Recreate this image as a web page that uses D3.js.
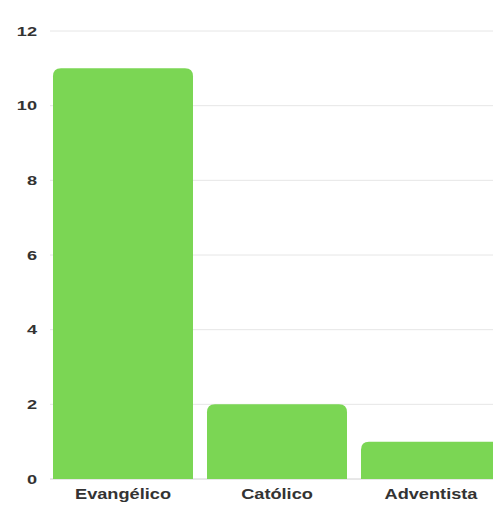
<!DOCTYPE html>
<html>
<head>
<meta charset="utf-8">
<script src="https://cdn.jsdelivr.net/npm/d3@7"></script>
<style>
  html, body { margin: 0; padding: 0; background: #fff; }
  svg { display: block; font-family: "Liberation Sans", Arial, sans-serif; }
</style>
</head>
<body>
<svg id="chart" width="493" height="507"></svg>
<script>
// Religion counts
const categories = ["Evangélico", "Católico", "Adventista"];
const values = [11, 2, 1];
const yTicks = [0, 2, 4, 6, 8, 10, 12];

const svg = d3.select("#chart");
const W = 493;

const x = d3.scaleBand()
  .domain(categories)
  .range([46, 508])
  .paddingInner(0.0909)
  .paddingOuter(0.0455);

const y = d3.scaleLinear().domain([0, 12]).range([479, 31]);

// horizontal gridlines
svg.append("g").selectAll("line")
  .data(yTicks)
  .join("line")
  .attr("x1", 50).attr("x2", W)
  .attr("y1", d => y(d)).attr("y2", d => y(d))
  .attr("stroke", d => d === 0 ? "#d0d0d0" : "#e6e6e6")
  .attr("stroke-width", 1);

// y axis labels (slightly widened glyphs)
const yAxis = d3.axisLeft(y).tickValues(yTicks).tickSize(0).tickPadding(0);
svg.append("g")
  .attr("transform", "translate(37,0)")
  .call(yAxis)
  .call(g => g.select(".domain").remove())
  .call(g => g.selectAll("text")
    .attr("fill", "#333")
    .attr("font-size", 13)
    .attr("font-weight", "bold")
    .attr("font-family", "'Liberation Sans', Arial, sans-serif")
    .attr("transform", "scale(1.4,1)"));

// bars with rounded top corners
const r = 8;
function barPath(d, i) {
  const x0 = x(categories[i]), w = x.bandwidth();
  const top = y(d), base = y(0);
  return `M${x0},${base}V${top + r}Q${x0},${top} ${x0 + r},${top}` +
         `H${x0 + w - r}Q${x0 + w},${top} ${x0 + w},${top + r}V${base}Z`;
}
svg.append("g").selectAll("path")
  .data(values)
  .join("path")
  .attr("d", barPath)
  .attr("fill", "#7bd654");

// x axis labels (slightly widened glyphs)
const xAxis = d3.axisBottom(x).tickSize(0).tickPadding(0);
svg.append("g")
  .attr("transform", "translate(0,499)")
  .call(xAxis)
  .call(g => g.select(".domain").remove())
  .call(g => g.selectAll("text")
    .attr("y", 0)
    .attr("dy", 0)
    .attr("fill", "#333")
    .attr("font-size", 14)
    .attr("font-weight", "bold")
    .attr("font-family", "'Liberation Sans', Arial, sans-serif")
    .attr("transform", "scale(1.3,1)"));
</script>
</body>
</html>
